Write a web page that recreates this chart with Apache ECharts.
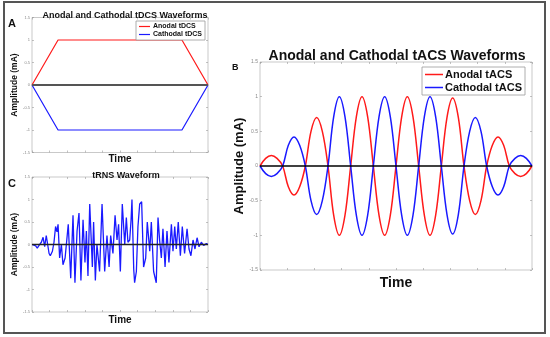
<!DOCTYPE html>
<html><head><meta charset="utf-8">
<script src="https://cdn.jsdelivr.net/npm/echarts@6/dist/echarts.min.js"></script>
<style>html,body{margin:0;padding:0;background:#fff}#c{width:550px;height:337px}</style>
</head><body><div id="c"></div>
<script>
// ---- Data ----
const yTicks = [-1.5, -1, -0.5, 0, 0.5, 1, 1.5];
// Panel A (tDCS), time 0..100
const tdcsAnodal = [[0,0],[14.8,1],[85.2,1],[100,0]];
const tdcsCathodal = [[0,0],[14.8,-1],[85.2,-1],[100,0]];
// Panel B (tACS), samples every 1/8 period, 49 samples (time index 0..48)
const tacsAnodal = [0,0.11,0.15,0.11, 0,-0.30,-0.42,-0.30, 0,0.50,0.70,0.50, 0,-0.71,-1,-0.71,
  0,0.71,1,0.71, 0,-0.71,-1,-0.71, 0,0.71,1,0.71, 0,-0.71,-1,-0.71,
  0,0.70,0.98,0.70, 0,-0.50,-0.70,-0.50, 0,0.30,0.42,0.30, 0,-0.11,-0.15,-0.11, 0];
const tacsCathodal = [0,-0.11,-0.15,-0.11, 0,0.30,0.42,0.30, 0,-0.50,-0.70,-0.50, 0,0.71,1,0.71,
  0,-0.71,-1,-0.71, 0,0.71,1,0.71, 0,-0.71,-1,-0.71, 0,0.71,1,0.71,
  0,-0.70,-0.98,-0.70, 0,0.50,0.70,0.50, 0,-0.30,-0.42,-0.30, 0,0.11,0.15,0.11, 0];
// Panel C (tRNS), time 0..100
const trns = [[0,0],[1.1,0.02],[2.1,-0.03],[3.0,-0.08],[4.0,-0.02],[5.3,0.05],[6.3,0.16],[7.2,-0.05],
  [8.1,0.2],[9.7,-0.2],[10.4,-0.25],[11.6,-0.15],[12.5,0.05],[13.4,0.4],[14.2,0.28],[14.8,0.45],
  [15.7,-0.3],[16.7,0.0],[17.6,-0.45],[18.8,-0.3],[20.6,0.45],[22.0,-0.75],[23.3,0.65],[24.4,-0.85],
  [25.6,0.3],[26.7,0.7],[27.8,-0.8],[29.0,0.55],[30.1,-0.4],[30.9,0.3],[31.8,-0.7],[32.8,0.9],
  [34.3,-0.5],[35.0,0.5],[36.0,-0.8],[36.9,0.0],[38.4,-0.6],[39.8,0.9],[41.3,-0.6],[42.6,0.2],
  [43.8,-0.5],[44.7,0.2],[46.0,-0.2],[47.2,0.65],[48.3,0.1],[49.2,0.45],[50.2,-0.6],[51.3,0.9],
  [52.7,0.0],[53.6,0.6],[54.5,0.05],[55.5,0.1],[56.3,0.55],[56.8,1.0],[57.8,-0.55],[58.3,-0.85],
  [59.3,-0.6],[60.2,0.4],[61.2,0.9],[62.3,0.95],[63.4,-0.5],[64.6,-0.3],[65.5,0.5],[66.9,-0.15],
  [67.8,0.5],[69.1,-0.6],[70.6,-0.85],[71.6,0.6],[72.5,0.1],[73.5,-0.3],[74.4,0.35],[75.6,-0.5],
  [76.7,0.3],[77.8,-0.4],[79.2,0.45],[80.1,-0.15],[81.1,0.4],[82.0,-0.1],[83.1,0.5],[84.3,-0.25],
  [85.4,0.4],[86.7,-0.2],[88.1,0.35],[89.2,-0.1],[90.3,-0.25],[91.5,0.1],[92.6,-0.1],[93.8,0.15],
  [94.9,-0.05],[96.2,0.05],[97.5,-0.02],[99.1,0.02],[100,0]];
const zeroA = [[0,0],[100,0]];
const zeroB = [[0,0],[48,0]];

const RED = '#ff1a1a', BLUE = '#1a1aff';
const FONT = 'Liberation Sans, Arial, sans-serif';

function xAxes(gi, max, interval, nameSize, nameGap) {
  const common = {gridIndex: gi, type: 'value', min: 0, max: max, interval: interval,
    axisLine: {show: false, onZero: false}, splitLine: {show: false},
    axisTick: {show: true, inside: true, length: 2, lineStyle: {color: '#999', width: 0.6}},
    axisLabel: {show: false}};
  return [
    Object.assign({}, common, {position: 'bottom', name: 'Time', nameLocation: 'middle', nameGap: nameGap,
      nameTextStyle: {fontFamily: FONT, fontWeight: 'bold', fontSize: nameSize, color: '#111'}}),
    Object.assign({}, common, {position: 'top'})
  ];
}
function yAxes(gi, labelSize, nameSize, nameGap) {
  const common = {gridIndex: gi, type: 'value', min: -1.5, max: 1.5, interval: 0.5,
    axisLine: {show: false, onZero: false}, splitLine: {show: false},
    axisTick: {show: true, inside: true, length: 2, lineStyle: {color: '#999', width: 0.6}}};
  return [
    Object.assign({}, common, {position: 'left', name: 'Amplitude (mA)', nameLocation: 'middle', nameGap: nameGap,
      nameTextStyle: {fontFamily: FONT, fontWeight: 'bold', fontSize: nameSize, color: '#111'},
      axisLabel: {show: true, fontSize: labelSize, color: '#888', fontFamily: FONT, margin: 2,
        formatter: v => (yTicks.indexOf(v) >= 0 ? String(v) : '')}}),
    Object.assign({}, common, {position: 'right', axisLabel: {show: false}})
  ];
}

const chart = echarts.init(document.getElementById('c'), null, {renderer: 'canvas'});
const option = {
  animation: false,
  backgroundColor: '#fff',
  grid: [
    {left: 32, top: 17.5, width: 176, height: 135, show: true, borderColor: '#bbb', borderWidth: 0.8},
    {left: 260, top: 62, width: 272, height: 208, show: true, borderColor: '#bbb', borderWidth: 0.8},
    {left: 32, top: 177, width: 176, height: 135, show: true, borderColor: '#bbb', borderWidth: 0.8}
  ],
  xAxis: [].concat(xAxes(0, 100, 10, 10, 2), xAxes(1, 48, 4.8, 14, 6), xAxes(2, 100, 10, 10, 3)),
  yAxis: [].concat(yAxes(0, 4, 8.5, 4.5), yAxes(1, 5, 13, 12), yAxes(2, 4, 8.5, 4.5)),
  title: [
    {text: 'Anodal and Cathodal tDCS Waveforms', left: 120, top: 6, textAlign: 'center',
      textStyle: {fontFamily: FONT, fontWeight: 'bold', fontSize: 9, color: '#111'}},
    {text: 'Anodal and Cathodal tACS Waveforms', left: 392, top: 44, textAlign: 'center',
      textStyle: {fontFamily: FONT, fontWeight: 'bold', fontSize: 14, color: '#111'}},
    {text: 'tRNS Waveform', left: 121, top: 166, textAlign: 'center',
      textStyle: {fontFamily: FONT, fontWeight: 'bold', fontSize: 9, color: '#111'}}
  ],
  legend: [
    {data: ['Anodal tDCS', 'Cathodal tDCS'], orient: 'vertical', left: 136, top: 21,
      backgroundColor: '#fff', borderColor: '#999', borderWidth: 0.8, padding: [2, 3, 2, 3], itemGap: 1,
      icon: 'rect', itemWidth: 11, itemHeight: 1.2,
      textStyle: {fontFamily: FONT, fontWeight: 'bold', fontSize: 7, color: '#111', padding: [0, 0, 0, -2]}},
    {data: ['Anodal tACS', 'Cathodal tACS'], orient: 'vertical', left: 422, top: 67,
      backgroundColor: '#fff', borderColor: '#999', borderWidth: 0.8, padding: [2, 3, 2, 3], itemGap: 2,
      icon: 'rect', itemWidth: 18, itemHeight: 1.5,
      textStyle: {fontFamily: FONT, fontWeight: 'bold', fontSize: 11, color: '#111', padding: [0, 0, 0, -3]}}
  ],
  graphic: [
    {type: 'rect', shape: {x: 4, y: 2, width: 541, height: 331}, style: {fill: 'none', stroke: '#555', lineWidth: 2}, silent: true},
    {type: 'text', left: 8, top: 18, style: {text: 'A', font: 'bold 11px ' + FONT, fill: '#111'}},
    {type: 'text', left: 232, top: 63, style: {text: 'B', font: 'bold 9px ' + FONT, fill: '#111'}},
    {type: 'text', left: 8, top: 178, style: {text: 'C', font: 'bold 11px ' + FONT, fill: '#111'}}
  ],
  series: [
    {name: 'Anodal tDCS', type: 'line', xAxisIndex: 0, yAxisIndex: 0, data: tdcsAnodal, showSymbol: false, symbol: 'none',
      lineStyle: {color: RED, width: 1.2}, itemStyle: {color: RED}},
    {name: 'Cathodal tDCS', type: 'line', xAxisIndex: 0, yAxisIndex: 0, data: tdcsCathodal, showSymbol: false, symbol: 'none',
      lineStyle: {color: BLUE, width: 1.2}, itemStyle: {color: BLUE}},
    {type: 'line', xAxisIndex: 0, yAxisIndex: 0, data: zeroA, symbol: 'none', lineStyle: {color: '#555', width: 1.8}, z: 5},
    {name: 'Anodal tACS', type: 'line', xAxisIndex: 2, yAxisIndex: 2, data: tacsAnodal.map((v, i) => [i, v]), smooth: 0.35, symbol: 'none',
      lineStyle: {color: RED, width: 1.5}, itemStyle: {color: RED}},
    {name: 'Cathodal tACS', type: 'line', xAxisIndex: 2, yAxisIndex: 2, data: tacsCathodal.map((v, i) => [i, v]), smooth: 0.35, symbol: 'none',
      lineStyle: {color: BLUE, width: 1.5}, itemStyle: {color: BLUE}},
    {type: 'line', xAxisIndex: 2, yAxisIndex: 2, data: zeroB, symbol: 'none', lineStyle: {color: '#000', width: 1.3}, z: 5},
    {type: 'line', xAxisIndex: 4, yAxisIndex: 4, data: trns, symbol: 'none', lineStyle: {color: BLUE, width: 1.3}},
    {type: 'line', xAxisIndex: 4, yAxisIndex: 4, data: zeroA, symbol: 'none', lineStyle: {color: '#222', width: 1.3}, z: 5}
  ]
};
chart.setOption(option);
</script></body></html>
